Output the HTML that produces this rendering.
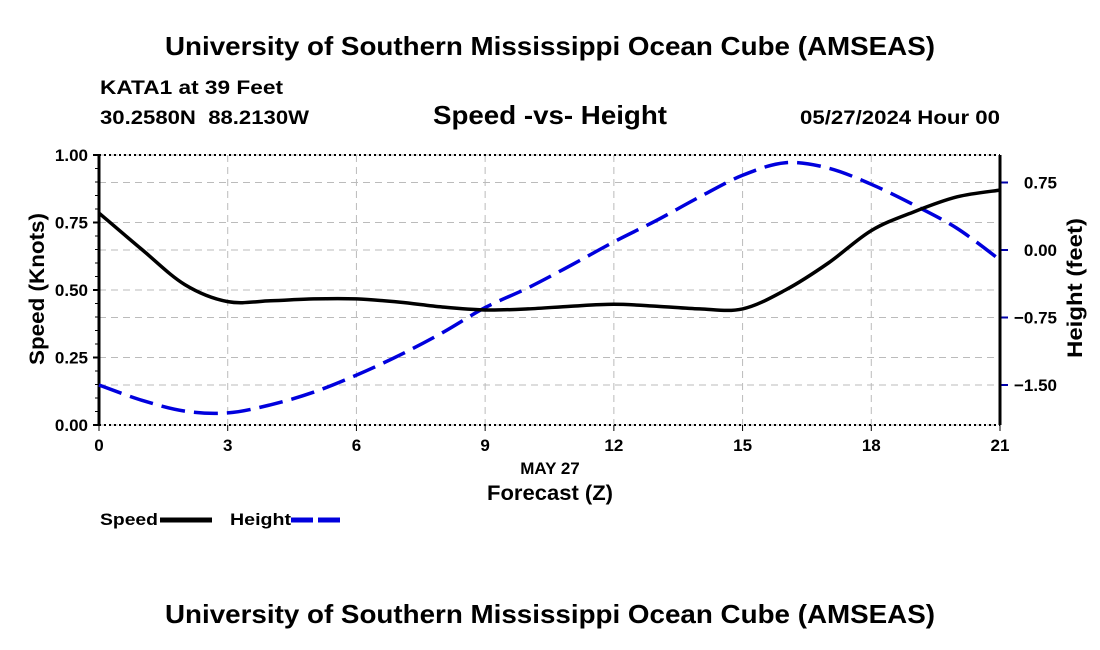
<!DOCTYPE html>
<html><head><meta charset="utf-8"><style>
body{margin:0;background:#fff;}
svg{display:block;font-family:"Liberation Sans",sans-serif;font-weight:bold;}
</style></head><body>
<svg id="c" width="1100" height="650">
<text x="165" y="55" font-size="26" textLength="770" lengthAdjust="spacingAndGlyphs">University of Southern Mississippi Ocean Cube (AMSEAS)</text>
<text x="100" y="94" font-size="19" textLength="183" lengthAdjust="spacingAndGlyphs">KATA1 at 39 Feet</text>
<text x="100" y="124" font-size="19" textLength="209" lengthAdjust="spacingAndGlyphs" xml:space="preserve">30.2580N  88.2130W</text>
<text x="433" y="124" font-size="26" textLength="234" lengthAdjust="spacingAndGlyphs">Speed -vs- Height</text>
<text x="800" y="124" font-size="19" textLength="200" lengthAdjust="spacingAndGlyphs">05/27/2024 Hour 00</text>
<g id="grid"></g><g id="axes"></g><g id="series"></g>
<text x="550" y="474" text-anchor="middle" font-size="17">MAY 27</text>
<text x="487" y="500" font-size="21" textLength="126" lengthAdjust="spacingAndGlyphs">Forecast (Z)</text>
<text transform="translate(44,289) rotate(-90)" text-anchor="middle" font-size="21" textLength="152" lengthAdjust="spacingAndGlyphs">Speed (Knots)</text>
<text transform="translate(1082,288) rotate(-90)" text-anchor="middle" font-size="21" textLength="140" lengthAdjust="spacingAndGlyphs">Height (feet)</text>
<g><text x="100" y="525" font-size="17" textLength="58" lengthAdjust="spacingAndGlyphs">Speed</text><line x1="160" y1="520" x2="212" y2="520" stroke="#000" stroke-width="5"/></g>
<g><text x="230" y="525" font-size="17" textLength="61" lengthAdjust="spacingAndGlyphs">Height</text><line x1="291" y1="520" x2="343" y2="520" stroke="#0000dd" stroke-width="5" stroke-dasharray="22,5"/></g>
<text x="165" y="623" font-size="26" textLength="770" lengthAdjust="spacingAndGlyphs">University of Southern Mississippi Ocean Cube (AMSEAS)</text>
</svg>
<script>
const hours=[0,1,2,3,4,5,6,7,8,9,10,11,12,13,14,15,16,17,18,19,20,21];
const speed=[0.785,0.65,0.52,0.457,0.46,0.467,0.467,0.455,0.437,0.426,0.43,0.44,0.447,0.44,0.43,0.43,0.5,0.6,0.72,0.79,0.845,0.87];
const height=[-1.5,-1.67,-1.79,-1.81,-1.72,-1.58,-1.39,-1.17,-0.92,-0.64,-0.42,-0.17,0.09,0.33,0.59,0.83,0.97,0.91,0.73,0.5,0.24,-0.11];
const xTicks=[0,3,6,9,12,15,18,21];
const leftTicks=[0,0.25,0.5,0.75,1.0];
const leftLabels=["0.00","0.25","0.50","0.75","1.00"];
const rightTicks=[-1.5,-0.75,0,0.75];
const rightLabels=["\u22121.50","\u22120.75","0.00","0.75"];
const X0=99,X1=1000,YT=155,YB=425;
const xs=h=>X0+(h/21)*(X1-X0);
const yL=v=>YB-v*(YB-YT);
const yR=h=>250-h*90;
const NS='http://www.w3.org/2000/svg';
function mk(p,t,a){const e=document.createElementNS(NS,t);for(const k in a)e.setAttribute(k,a[k]);p.appendChild(e);return e;}
const G=document.getElementById('grid'),A=document.getElementById('axes'),S=document.getElementById('series');
xTicks.forEach(t=>{const l=mk(G,'line',{x1:xs(t),x2:xs(t),y1:YT,y2:YB,stroke:'#bbb','stroke-dasharray':'7,5'});

const tx=mk(A,'text',{x:xs(t),y:YB+26,'text-anchor':'middle','font-size':17});tx.textContent=t;

mk(A,'line',{x1:xs(t),x2:xs(t),y1:YB,y2:YB+6,stroke:'#000'});});
leftTicks.forEach((t,i)=>{const l=mk(G,'line',{x1:X0,x2:X1,y1:yL(t),y2:yL(t),stroke:'#bbb','stroke-dasharray':'7,5'});

mk(A,'line',{x1:X0-6,x2:X0,y1:yL(t),y2:yL(t),stroke:'#000','stroke-width':2});
const tx=mk(A,'text',{x:X0-11,y:yL(t)+6,'text-anchor':'end','font-size':17});tx.textContent=leftLabels[i];
});
for(let v=0.05;v<1;v+=0.05)mk(A,'line',{x1:X0-4,x2:X0,y1:yL(v),y2:yL(v),stroke:'#000'});
rightTicks.forEach((t,i)=>{const l=mk(G,'line',{x1:X0,x2:X1,y1:yR(t),y2:yR(t),stroke:'#bbb','stroke-dasharray':'7,5'});

mk(A,'line',{x1:X1,x2:X1+8,y1:yR(t),y2:yR(t),stroke:'#00a','stroke-width':2});
const tx=mk(A,'text',{x:X1+57,y:yR(t)+6,'text-anchor':'end','font-size':17});tx.textContent=rightLabels[i];
});
[YT,YB].forEach(y=>{mk(A,'line',{x1:X0,x2:X1,y1:y,y2:y,stroke:'#000','stroke-width':2,'stroke-dasharray':'2,3'});});
mk(A,'line',{x1:X0,x2:X0,y1:YT,y2:YB,stroke:'#000','stroke-width':3});
mk(A,'line',{x1:X1,x2:X1,y1:YT,y2:YB,stroke:'#000','stroke-width':3});
function path(vals,yf){const p=hours.map((h,i)=>[xs(h),yf(vals[i])]);let d='M'+p[0][0]+','+p[0][1];
for(let i=0;i<p.length-1;i++){const a=p[Math.max(0,i-1)],b=p[i],c=p[i+1],e=p[Math.min(p.length-1,i+2)];
d+=' C'+(b[0]+(c[0]-a[0])/6)+','+(b[1]+(c[1]-a[1])/6)+' '+(c[0]-(e[0]-b[0])/6)+','+(c[1]-(e[1]-b[1])/6)+' '+c[0]+','+c[1];}return d;}
const h1=mk(S,'path',{d:path(height,yR),fill:'none',stroke:'#0000dd','stroke-width':3.5,'stroke-dasharray':'24,9'});

const s1=mk(S,'path',{d:path(speed,yL),fill:'none',stroke:'#000','stroke-width':3.5});

</script>
</body></html>
